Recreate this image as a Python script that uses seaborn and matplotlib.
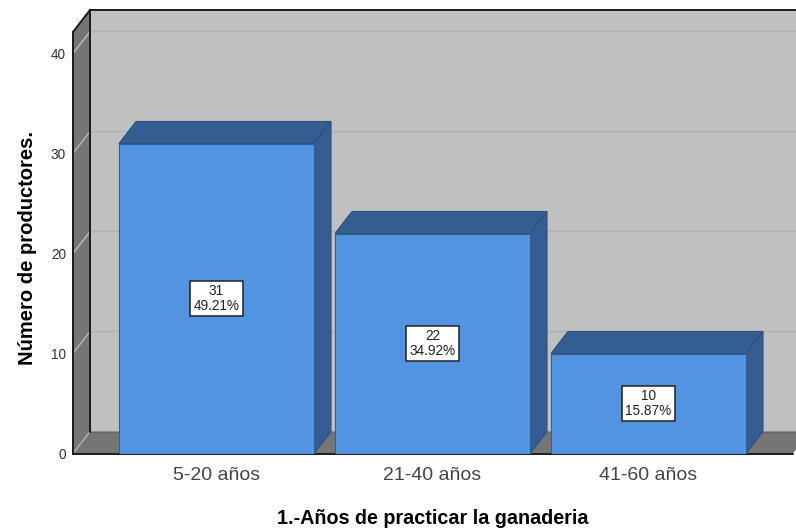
import matplotlib
matplotlib.use("Agg")
import matplotlib.pyplot as plt
from matplotlib.patches import Polygon
import pandas as pd
import seaborn as sns

categorias = ["5-20 años", "21-40 años", "41-60 años"]
productores = [31, 22, 10]
porcentajes = ["49.21%", "34.92%", "15.87%"]
y_ticks = [0, 10, 20, 30, 40]
x_titulo = "1.-Años de practicar la ganaderia"
y_titulo = "Número de productores."

sns.set_style("white")
plt.rcParams['font.family'] = ['Liberation Sans', 'DejaVu Sans']

W, H = 796, 529
wall_c = '#c0c0c0'
floor_c = '#757575'
grid_c = '#b2b2b2'
bar_c = '#5294e2'
dark_c = '#345e91'
line_c = '#1a1a1a'

fig = plt.figure(figsize=(W/100, H/100), dpi=100)
ax = fig.add_axes([73/W, 1-453.5/H, 720/W, 421.5/H])

df = pd.DataFrame({'cat': categorias, 'n': productores})
sns.barplot(data=df, x='cat', y='n', color=bar_c, saturation=1, width=195/216, ax=ax, zorder=5)

ax.set_xlim(-143.5/216, 576.5/216)
ax.set_ylim(0, 42.15)
x0, x1 = ax.get_xlim()
y0, y1 = ax.get_ylim()

# depth of the fake 3d box, in data units
dx = 17/216
dy = 2.2


def poly(pts, fc, ec='none', lw=0, z=1):
    p = Polygon(pts, closed=True, facecolor=fc, edgecolor=ec, linewidth=lw, zorder=z, clip_on=False)
    ax.add_patch(p)


# walls and floor
poly([(x0+dx, y0+dy), (x1+dx, y0+dy), (x1+dx, y1+dy), (x0+dx, y1+dy)], wall_c, z=1)
poly([(x0, y0), (x0+dx, y0+dy), (x0+dx, y1+dy), (x0, y1)], floor_c, z=1.5)
poly([(x0, y0), (x1, y0), (x1+dx, y0+dy), (x0+dx, y0+dy)], floor_c, z=1.5)

# gridlines go along the wall and down the side
for t in y_ticks[1:]:
    ax.plot([x0, x0+dx, x1+dx], [t, t+dy, t+dy], color=grid_c, lw=1.2, zorder=2, clip_on=False)
ax.plot([x0, x0+dx], [y0, y0+dy], color=grid_c, lw=1, zorder=2, clip_on=False)

# outline
ax.plot([x0, x0+dx, x1+dx], [y1, y1+dy, y1+dy], color=line_c, lw=1.4, zorder=3, clip_on=False)
ax.plot([x0+dx, x0+dx], [y0+dy, y1+dy], color=line_c, lw=1.4, zorder=3, clip_on=False)
ax.plot([x0, x0], [y0, y1], color=line_c, lw=1.4, zorder=3, clip_on=False)
ax.plot([x0, x1], [y0, y0], color=line_c, lw=1.4, zorder=3, clip_on=False)
ax.plot([x0+dx, x1+dx], [y0+dy, y0+dy], color='#666666', lw=1, zorder=2, clip_on=False)

# bar tops and sides, then the labels
for i, b in enumerate(ax.patches[:len(categorias)]):
    l, w, h = b.get_x(), b.get_width(), b.get_height()
    r = l+w
    b.set_edgecolor(dark_c)
    b.set_linewidth(0.8)
    poly([(l, h), (r, h), (r+dx, h+dy), (l+dx, h+dy)], dark_c, ec='#2c5080', lw=0.8, z=4)
    poly([(r, 0), (r+dx, dy), (r+dx, h+dy), (r, h)], dark_c, ec='#2c5080', lw=0.8, z=4)
    ax.text(l+w/2, h/2, "%d\n%s" % (productores[i], porcentajes[i]), ha='center', va='center',
            fontsize=9.8, color='#222222', linespacing=1.08, zorder=6,
            bbox=dict(boxstyle='square,pad=0.25', fc='white', ec='#222222', lw=1.1))

ax.set_yticks(y_ticks)
ax.set_xlabel(x_titulo, fontsize=14.2, fontweight='bold', color='black', labelpad=18)
ax.set_ylabel(y_titulo, fontsize=14.5, fontweight='bold', color='black', labelpad=10, y=0.488)
ax.tick_params(axis='x', labelsize=14, labelcolor='#444444', length=0, pad=10)
ax.tick_params(axis='y', labelsize=9.8, labelcolor='#333333', length=0, pad=5)
sns.despine(ax=ax, left=True, bottom=True, top=True, right=True)

fig.savefig('out.png', dpi=100)
